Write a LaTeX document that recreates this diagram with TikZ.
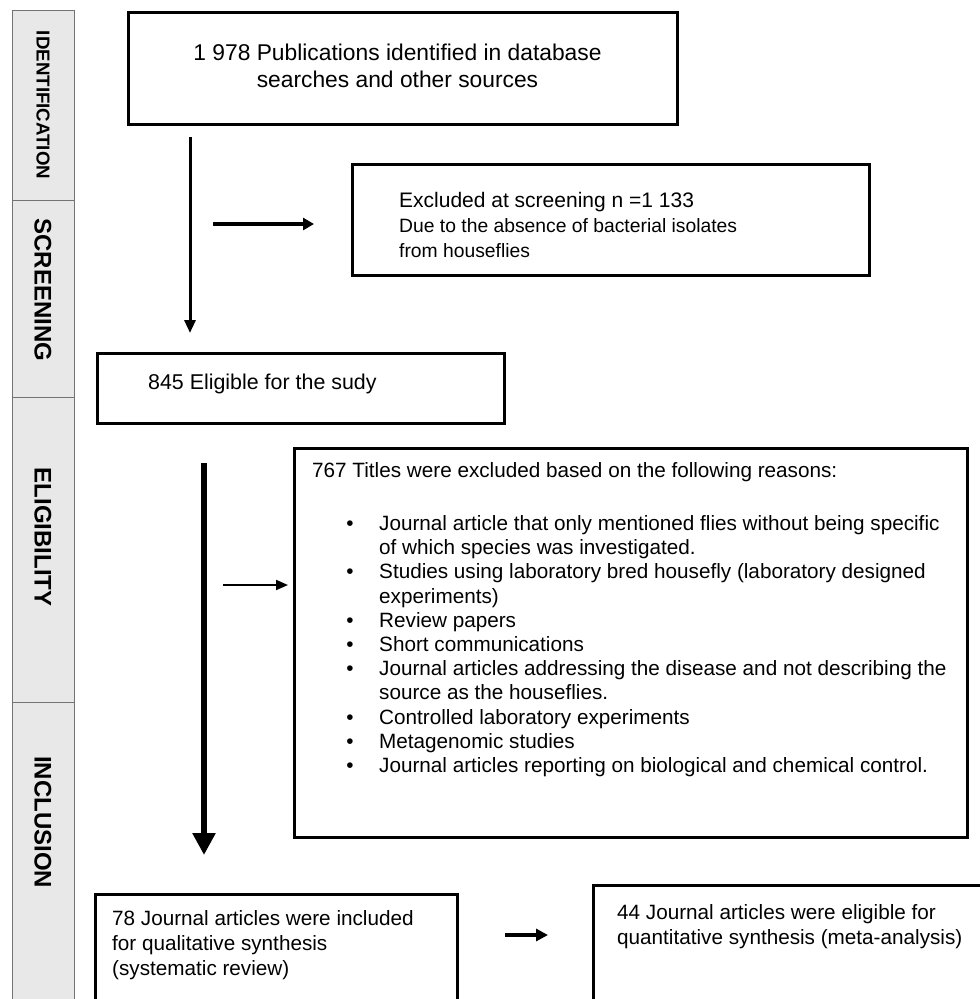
\documentclass[tikz,border=0pt]{standalone}
\usepackage{fontspec}
\setmainfont{Liberation Sans}
\usetikzlibrary{arrows.meta}
\begin{document}
\begin{tikzpicture}[x=1pt,y=-1pt,
  tab/.style={draw=black!55, fill=black!9, line width=1pt, inner sep=0pt, minimum width=62pt},
  tabtext/.style={font=\bfseries\fontsize{24}{24}\selectfont, rotate=-90, inner sep=0pt},
  box/.style={draw, line width=3pt, inner sep=0pt},
  txt/.style={anchor=base west, inner sep=0pt, font=\fontsize{20.7}{24}\selectfont},
  ctxt/.style={anchor=base, inner sep=0pt, font=\fontsize{22.8}{27}\selectfont},
  bul/.style={anchor=base, inner sep=0pt, font=\fontsize{20.7}{24}\selectfont},
  conn/.style={line width=3pt, -{Triangle[length=13pt,width=11pt]}},
]
\clip (0,0) rectangle (980,999);
% phase tabs
\node[tab, minimum height=190pt] (tid) at (43,105) {};
\node[tab, minimum height=197pt] (tsc) at (43,298.5) {};
\node[tab, minimum height=305pt] (tel) at (43,549.5) {};
\node[tab, minimum height=308pt] (tin) at (43,856) {};
\node[tabtext, font=\bfseries\fontsize{18.7}{19}\selectfont] (lid) at (43,105) {IDENTIFICATION};
\node[tabtext] (lsc) at (43,290) {SCREENING};
\node[tabtext] (lel) at (43,537) {ELIGIBILITY};
\node[tabtext] (lin) at (43,822) {INCLUSION};

% boxes
\node[box, minimum width=549pt, minimum height=112pt] (b1) at (402.5,68) {};
\node[box, minimum width=517pt, minimum height=111pt] (bex) at (610.5,219.5) {};
\node[box, minimum width=407pt, minimum height=70pt] (b845) at (300.5,388) {};
\node[box, minimum width=673pt, minimum height=389pt] (b767) at (630.5,642.5) {};
\node[box, minimum width=362pt, minimum height=126pt] (b78) at (276,957) {};
\node[box, minimum width=402pt, minimum height=135pt] (b44) at (794,952.5) {};

% texts
\node[ctxt] (t1a) at (397.5,60) {1 978 Publications identified in database};
\node[ctxt] (t1b) at (397.5,87) {searches and other sources};

\node[txt, font=\fontsize{21}{24}\selectfont] (tex1) at (399,207) {Excluded at screening n =1 133};
\node[txt, font=\fontsize{19.3}{22}\selectfont] (tex2) at (399,232) {Due to the absence of bacterial isolates};
\node[txt, font=\fontsize{19.3}{22}\selectfont] (tex3) at (399,257) {from houseflies};

\node[txt, font=\fontsize{21.4}{24}\selectfont] (t845) at (148,389) {845 Eligible for the sudy};

\node[txt] (t767) at (312,477) {767 Titles were excluded based on the following reasons:};
\node[bul] (u1) at (350,530) {•};
\node[txt] (i1a) at (379,530) {Journal article that only mentioned flies without being specific};
\node[txt] (i1b) at (379,554) {of which species was investigated.};
\node[bul] (u2) at (350,578) {•};
\node[txt] (i2a) at (379,578) {Studies using laboratory bred housefly (laboratory designed};
\node[txt] (i2b) at (379,603) {experiments)};
\node[bul] (u3) at (350,627) {•};
\node[txt] (i3) at (379,627) {Review papers};
\node[bul] (u4) at (350,651) {•};
\node[txt] (i4) at (379,651) {Short communications};
\node[bul] (u5) at (350,675) {•};
\node[txt] (i5a) at (379,675) {Journal articles addressing the disease and not describing the};
\node[txt] (i5b) at (379,699) {source as the houseflies.};
\node[bul] (u6) at (350,724) {•};
\node[txt] (i6) at (379,724) {Controlled laboratory experiments};
\node[bul] (u7) at (350,748) {•};
\node[txt] (i7) at (379,748) {Metagenomic studies};
\node[bul] (u8) at (350,772) {•};
\node[txt] (i8) at (379,772) {Journal articles reporting on biological and chemical control.};

\node[txt] (t78a) at (112,925) {78 Journal articles were included};
\node[txt] (t78b) at (112,950) {for qualitative synthesis};
\node[txt] (t78c) at (112,975) {(systematic review)};

\node[txt] (t44a) at (617,919) {44 Journal articles were eligible for};
\node[txt] (t44b) at (617,944) {quantitative synthesis (meta-analysis)};

% connectors
\coordinate (a1s) at (190,137);
\coordinate (a1e) at (190,333);
\coordinate (a2s) at (213,224);
\coordinate (a2e) at (314,224);
\coordinate (a3s) at (204,463);
\coordinate (a3e) at (204,855);
\coordinate (a4s) at (223,585);
\coordinate (a4e) at (288,585);
\coordinate (a5s) at (505,935);
\coordinate (a5e) at (548,935);
\draw[conn] (a1s) -- (a1e);
\draw[conn, line width=4pt, -{Triangle[length=11pt,width=12pt]}] (a2s) -- (a2e);
\draw[conn, line width=5.5pt, -{Triangle[length=22pt,width=22pt]}] (a3s) -- (a3e);
\draw[conn, line width=2pt, -{Triangle[length=12pt,width=10pt]}] (a4s) -- (a4e);
\draw[conn, line width=4pt, -{Triangle[length=12pt,width=12pt]}] (a5s) -- (a5e);
\end{tikzpicture}
\end{document}
